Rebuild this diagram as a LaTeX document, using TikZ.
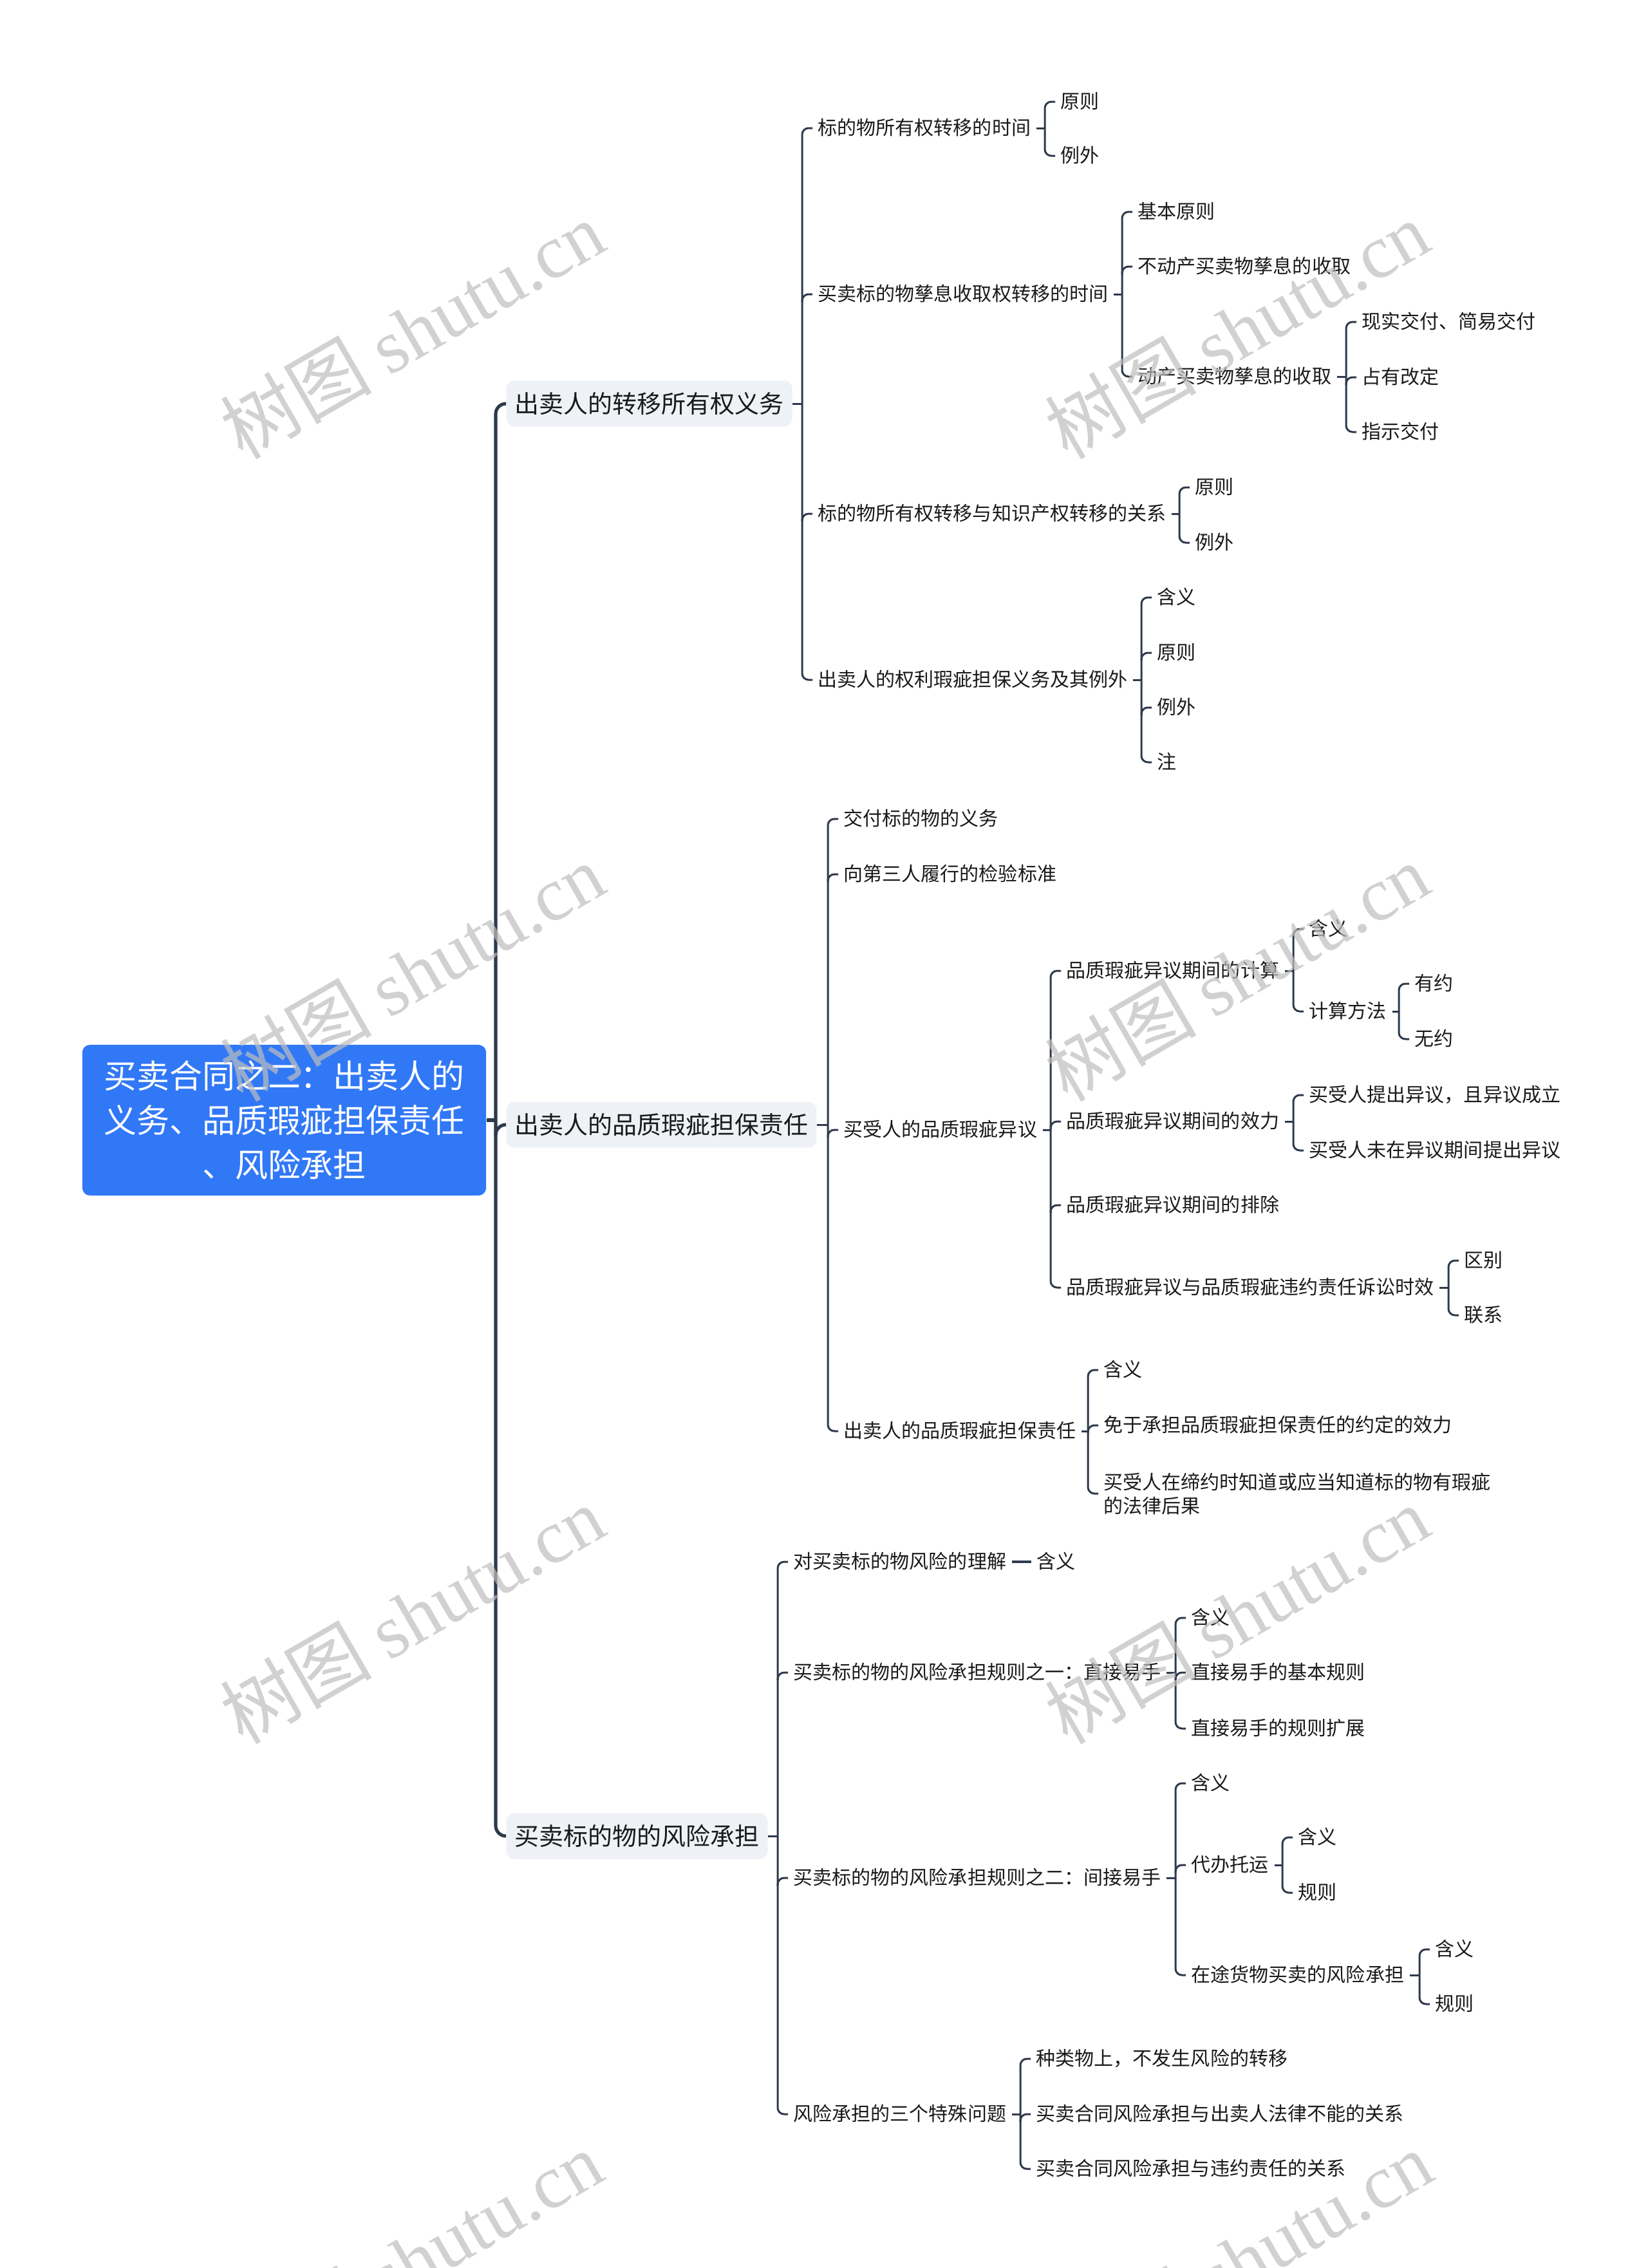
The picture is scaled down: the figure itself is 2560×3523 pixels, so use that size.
\documentclass[tikz,border=0pt]{standalone}
\usepackage{fontspec}
\setmainfont{Noto Sans CJK SC}
\newfontfamily\wmlat{Liberation Serif}
\usetikzlibrary{calc}
\definecolor{linec}{HTML}{2E3A4B}
\definecolor{rootc}{HTML}{3178F6}
\definecolor{lonefill}{HTML}{EEF1F5}
\definecolor{txt}{HTML}{1A1A1A}
\definecolor{wmc}{HTML}{BEBEBE}
\newcommand{\mmfork}[4]{%
  \draw[conn] (#1.east) -- (#1.east -| #2);
  \draw[conn] (#3.west) -- (#3.west -| #2) -- (#4.west -| #2) -- (#4.west);}
\newcommand{\mmhook}[2]{%
  \draw[conn] ($(#1.west -| #2)+(0,12)$) -- (#1.west -| #2) -- (#1.west);}
\begin{document}
\begin{tikzpicture}[x=0.01cm,y=-0.01cm,
  conn/.style={draw=linec, line width=0.85pt, rounded corners=0.1cm},
  trunk/.style={draw=linec, line width=1.45pt, rounded corners=0.16cm},
  rootbox/.style={fill=rootc, rounded corners=0.12cm, text=white,
    font=\fontsize{14.5}{19.5}\selectfont, align=center,
    minimum width=6.27cm, minimum height=2.34cm, inner sep=0pt},
  lone/.style={fill=lonefill, rounded corners=0.12cm, text=txt,
    font=\fontsize{10.8}{13}\selectfont, anchor=west, inner xsep=0.13cm,
    inner ysep=0pt, minimum height=0.71cm, text height=0.335cm, text depth=0.045cm},
  leaf/.style={text=txt, font=\fontsize{8.54}{10.5}\selectfont, anchor=west,
    inner xsep=0.08cm, inner ysep=0.05cm, text height=0.255cm, text depth=0.045cm},
  leafm/.style={text=txt, font=\fontsize{8.54}{10.5}\selectfont, anchor=west,
    inner xsep=0.08cm, inner ysep=0.05cm, align=left},
  wm/.style={text=wmc, text opacity=0.7, rotate=30, inner sep=0pt,
    font=\fontsize{33.5}{33.5}\selectfont}
]
\useasboundingbox[fill=white] (0,0) rectangle (2560,3523);

% root and level 1
\node[rootbox] (root) at (441.5,1740) {买卖合同之二：出卖人的\\义务、品质瑕疵担保责任\\、风险承担};
\node[lone] (A) at (786,627) {出卖人的转移所有权义务};
\node[lone] (B) at (786,1747) {出卖人的品质瑕疵担保责任};
\node[lone] (C) at (786,2852) {买卖标的物的风险承担};
\coordinate (t0) at (770,0);
\draw[trunk] (root.east) -- (root.east -| t0);
\draw[trunk] (A.west) -- (A.west -| t0) -- (C.west -| t0) -- (C.west);
\draw[trunk] ($(B.west -| t0)+(0,16)$) -- (B.west -| t0) -- (B.west);

% ---------- Branch A ----------
\coordinate (bA) at (1246,0);
\node[leaf] (A1) at (1262,199) {标的物所有权转移的时间};
\node[leaf] (A2) at (1262,457) {买卖标的物孳息收取权转移的时间};
\node[leaf] (A3) at (1262,798) {标的物所有权转移与知识产权转移的关系};
\node[leaf] (A4) at (1262,1056) {出卖人的权利瑕疵担保义务及其例外};
\mmfork{A}{bA}{A1}{A4}
\mmhook{A2}{bA} \mmhook{A3}{bA}

\coordinate (bA1) at (1623,0);
\node[leaf] (A11) at (1639,158) {原则};
\node[leaf] (A12) at (1639,242) {例外};
\mmfork{A1}{bA1}{A11}{A12}

\coordinate (bA2) at (1743,0);
\node[leaf] (A21) at (1759,329) {基本原则};
\node[leaf] (A22) at (1759,414) {不动产买卖物孳息的收取};
\node[leaf] (A23) at (1759,585) {动产买卖物孳息的收取};
\mmfork{A2}{bA2}{A21}{A23}
\mmhook{A22}{bA2}

\coordinate (bA23) at (2091,0);
\node[leaf] (A231) at (2107,500) {现实交付、简易交付};
\node[leaf] (A232) at (2107,586) {占有改定};
\node[leaf] (A233) at (2107,671) {指示交付};
\mmfork{A23}{bA23}{A231}{A233}
\mmhook{A232}{bA23}

\coordinate (bA3) at (1832,0);
\node[leaf] (A31) at (1848,757) {原则};
\node[leaf] (A32) at (1848,843) {例外};
\mmfork{A3}{bA3}{A31}{A32}

\coordinate (bA4) at (1773,0);
\node[leaf] (A41) at (1789,928) {含义};
\node[leaf] (A42) at (1789,1014) {原则};
\node[leaf] (A43) at (1789,1099) {例外};
\node[leaf] (A44) at (1789,1184) {注};
\mmfork{A4}{bA4}{A41}{A44}
\mmhook{A42}{bA4} \mmhook{A43}{bA4}

% ---------- Branch B ----------
\coordinate (bB) at (1286,0);
\node[leaf] (B1) at (1302,1272) {交付标的物的义务};
\node[leaf] (B2) at (1302,1358) {向第三人履行的检验标准};
\node[leaf] (B3) at (1302,1755) {买受人的品质瑕疵异议};
\node[leaf] (B4) at (1302,2223) {出卖人的品质瑕疵担保责任};
\mmfork{B}{bB}{B1}{B4}
\mmhook{B2}{bB} \mmhook{B3}{bB}

\coordinate (bB3) at (1632,0);
\node[leaf] (B31) at (1648,1508) {品质瑕疵异议期间的计算};
\node[leaf] (B32) at (1648,1742) {品质瑕疵异议期间的效力};
\node[leaf] (B33) at (1648,1872) {品质瑕疵异议期间的排除};
\node[leaf] (B34) at (1648,2000) {品质瑕疵异议与品质瑕疵违约责任诉讼时效};
\mmfork{B3}{bB3}{B31}{B34}
\mmhook{B32}{bB3} \mmhook{B33}{bB3}

\coordinate (bB31) at (2009,0);
\node[leaf] (B311) at (2025,1443) {含义};
\node[leaf] (B312) at (2025,1571) {计算方法};
\mmfork{B31}{bB31}{B311}{B312}

\coordinate (bB312) at (2173,0);
\node[leaf] (B3121) at (2189,1528) {有约};
\node[leaf] (B3122) at (2189,1614) {无约};
\mmfork{B312}{bB312}{B3121}{B3122}

\coordinate (bB32) at (2009,0);
\node[leaf] (B321) at (2025,1701) {买受人提出异议，且异议成立};
\node[leaf] (B322) at (2025,1787) {买受人未在异议期间提出异议};
\mmfork{B32}{bB32}{B321}{B322}

\coordinate (bB34) at (2250,0);
\node[leaf] (B341) at (2266,1958) {区别};
\node[leaf] (B342) at (2266,2043) {联系};
\mmfork{B34}{bB34}{B341}{B342}

\coordinate (bB4) at (1690,0);
\node[leaf] (B41) at (1706,2128) {含义};
\node[leaf] (B42) at (1706,2214) {免于承担品质瑕疵担保责任的约定的效力};
\node[leafm] (B43) at (1706,2320) {买受人在缔约时知道或应当知道标的物有瑕疵\\的法律后果};
\mmfork{B4}{bB4}{B41}{B43}
\mmhook{B42}{bB4}

% ---------- Branch C ----------
\coordinate (bC) at (1208,0);
\node[leaf] (C1) at (1224,2426) {对买卖标的物风险的理解};
\node[leaf] (C2) at (1224,2598) {买卖标的物的风险承担规则之一：直接易手};
\node[leaf] (C3) at (1224,2917) {买卖标的物的风险承担规则之二：间接易手};
\node[leaf] (C4) at (1224,3284) {风险承担的三个特殊问题};
\mmfork{C}{bC}{C1}{C4}
\mmhook{C2}{bC} \mmhook{C3}{bC}

\node[leaf] (C11) at (1602,2426) {含义};
\draw[conn, line width=1.1pt] (C1.east) -- (C11.west);

\coordinate (bC2) at (1826,0);
\node[leaf] (C21) at (1842,2513) {含义};
\node[leaf] (C22) at (1842,2598) {直接易手的基本规则};
\node[leaf] (C23) at (1842,2685) {直接易手的规则扩展};
\mmfork{C2}{bC2}{C21}{C23}
\mmhook{C22}{bC2}

\coordinate (bC3) at (1826,0);
\node[leaf] (C31) at (1842,2770) {含义};
\node[leaf] (C32) at (1842,2897) {代办托运};
\node[leaf] (C33) at (1842,3068) {在途货物买卖的风险承担};
\mmfork{C3}{bC3}{C31}{C33}
\mmhook{C32}{bC3}

\coordinate (bC32) at (1992,0);
\node[leaf] (C321) at (2008,2854) {含义};
\node[leaf] (C322) at (2008,2940) {规则};
\mmfork{C32}{bC32}{C321}{C322}

\coordinate (bC33) at (2205,0);
\node[leaf] (C331) at (2221,3028) {含义};
\node[leaf] (C332) at (2221,3113) {规则};
\mmfork{C33}{bC33}{C331}{C332}

\coordinate (bC4) at (1585,0);
\node[leaf] (C41) at (1601,3198) {种类物上，不发生风险的转移};
\node[leaf] (C42) at (1601,3284) {买卖合同风险承担与出卖人法律不能的关系};
\node[leaf] (C43) at (1601,3369) {买卖合同风险承担与违约责任的关系};
\mmfork{C4}{bC4}{C41}{C43}
\mmhook{C42}{bC4}

% ---------- watermarks ----------
\foreach \wx/\wy [count=\i] in {640/512, 1921/512, 640/1510, 1921/1510, 640/2508, 1921/2508, 637/3510, 1926/3510}{
  \node[wm] (wm\i) at (\wx,\wy) {树图 {\wmlat shutu.cn}};
}
\end{tikzpicture}
\end{document}
